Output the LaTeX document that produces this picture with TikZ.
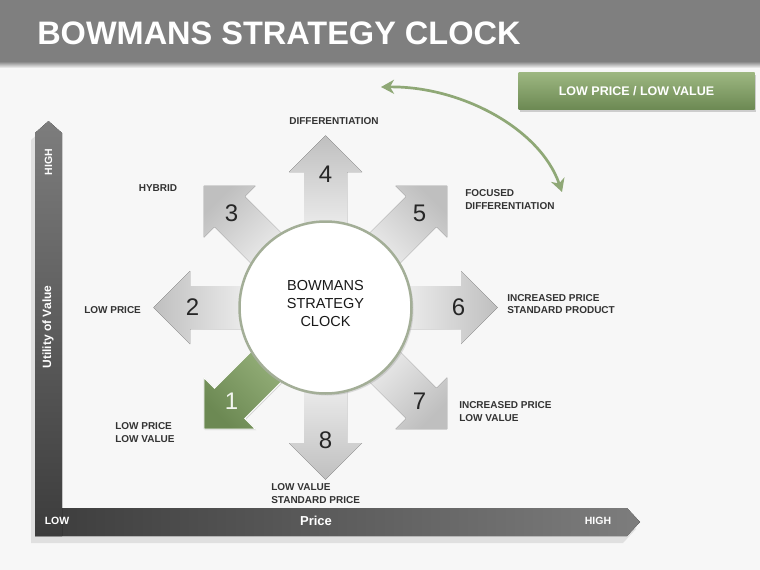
\documentclass[tikz,border=0pt]{standalone}
\usepackage{fontspec}
\setmainfont{Liberation Sans}
\usetikzlibrary{arrows.meta,shadows}
\definecolor{bgc}{HTML}{F7F7F7}
\definecolor{barc}{HTML}{7F7F7F}
\definecolor{sage}{HTML}{8FA876}
\definecolor{sagelt}{HTML}{9DB781}
\definecolor{sagedk}{HTML}{6C8953}
\definecolor{ringc}{HTML}{A3AE97}
\definecolor{txtc}{HTML}{333333}
\definecolor{axdk}{HTML}{3C3C3C}
\definecolor{axlt}{HTML}{7D7D7D}
\definecolor{axsh}{HTML}{E0E0E0}

\begin{document}
\begin{tikzpicture}[x=1pt,y=-1pt,line width=.5pt,
  lbl/.style={inner sep=0pt,align=left,text=txtc,font=\fontsize{10}{12.5}\selectfont\bfseries},
  num/.style={inner sep=0pt,font=\fontsize{24}{26}\selectfont,text=black!85},
  axtxt/.style={inner sep=0pt,text=white,font=\fontsize{10.5}{12}\selectfont\bfseries},
  spoke/.style={top color=gray!50,bottom color=gray!8}]
\path[use as bounding box] (0,0) rectangle (760,570);
\fill[bgc] (0,0) rectangle (760,570);
\fill[top color=black!45,bottom color=bgc] (0,62) rectangle (760,68);
\fill[barc] (0,0) rectangle (760,62);
\node[anchor=west,inner sep=0pt,text=white,font=\fontsize{32.5}{35}\selectfont\bfseries] (title) at (37,33) {BOWMANS STRATEGY CLOCK};
\node[minimum width=236pt,minimum height=37pt,inner sep=0pt,top color=sagelt,bottom color=sagedk,drop shadow={opacity=.35,shadow xshift=1.5pt,shadow yshift=-2pt},text=white,font=\fontsize{12.5}{14}\selectfont\bfseries] (tag) at (636.5,91) {LOW PRICE / LOW VALUE};
\fill[axsh] (31,543) -- (31,140) -- (44.5,128) -- (58,140) -- (58,515) -- (623,515) -- (636,529) -- (623,543) -- cycle;
\fill[left color=axdk,right color=axlt] (35,508) -- (627,508) -- (640,522) -- (627,536) -- (35,536) -- cycle;
\fill[top color=axlt,bottom color=axdk] (35,536) -- (35,133) -- (48.5,121) -- (62,133) -- (62,508) -- (62,536) -- cycle;
\node[axtxt,rotate=90] (vhi) at (48.5,162) {HIGH};
\node[axtxt,rotate=90,font=\fontsize{12}{14}\selectfont\bfseries] (vlab) at (48,327) {Utility of Value};
\node[axtxt] (hlo) at (57,521) {LOW};
\node[axtxt,font=\fontsize{13}{15}\selectfont\bfseries] (hlab) at (316,521) {Price};
\node[axtxt] (hhi) at (598,521) {HIGH};
\foreach \a/\n in {90/4,45/5,0/6,-45/7,-90/8,180/2,135/3}{
  \begin{scope}[shift={(325.5,307.5)},rotate=\a]
  \fill[spoke,shading angle=\a-90] (60,-21.5) -- (135.5,-21.5) -- (135.5,-36.5) -- (172,0) -- (135.5,36.5) -- (135.5,21.5) -- (60,21.5) -- cycle;
  \node[num] (n\n) at (133,0) {\n};
  \end{scope}
}
\begin{scope}[shift={(325.5,307.5)},rotate=-135]
\filldraw[draw=white,line width=1pt,top color=sagedk,bottom color=sagelt,shading angle=-225,drop shadow={opacity=.3,shadow xshift=1pt,shadow yshift=-1pt}] (60,-21.5) -- (135.5,-21.5) -- (135.5,-36.5) -- (172,0) -- (135.5,36.5) -- (135.5,21.5) -- (60,21.5) -- cycle;
\node[num,text=white!88!sagelt] (n1) at (133,0) {1};
\end{scope}
\node[circle,minimum size=172pt,inner sep=0pt,draw=ringc,line width=2.5pt,fill=white,drop shadow={opacity=.25,shadow xshift=2pt,shadow yshift=-2pt},align=center,text depth=9pt,text=black!90,font=\fontsize{14.5}{18}\selectfont] (clock) at (325.5,307.5) {BOWMANS\\STRATEGY\\CLOCK};
\coordinate (ca) at (381,87);
\coordinate (cb) at (562,192);
\draw[sage,line width=2.7pt,{Stealth[length=13pt,width=14pt,inset=4pt]}-{Stealth[length=13pt,width=14pt,inset=4pt]}] (ca) .. controls (460,86) and (540,128) .. (cb);
\node[lbl] (dif) at (334,121) {DIFFERENTIATION};
\node[lbl] (hyb) at (158,188) {HYBRID};
\node[lbl,anchor=west] (foc) at (465,199.5) {FOCUSED\\DIFFERENTIATION};
\node[lbl,anchor=west] (lp) at (84,310) {LOW PRICE};
\node[lbl,anchor=west] (isp) at (507,304) {INCREASED PRICE\\STANDARD PRODUCT};
\node[lbl,anchor=west] (ilv) at (459,411.5) {INCREASED PRICE\\LOW VALUE};
\node[lbl,anchor=west] (lplv) at (115,432.5) {LOW PRICE\\LOW VALUE};
\node[lbl,anchor=west] (lvsp) at (271,493.5) {LOW VALUE\\STANDARD PRICE};
\end{tikzpicture}
\end{document}
